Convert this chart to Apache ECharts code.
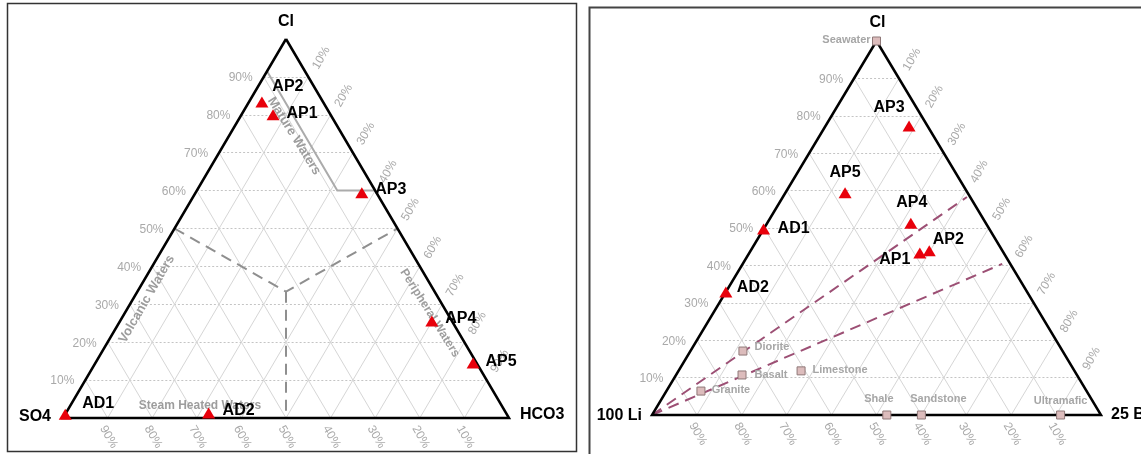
<!DOCTYPE html>
<html><head><meta charset="utf-8">
<script src="https://cdn.jsdelivr.net/npm/echarts@6/dist/echarts.min.js"></script>
<style>html,body{margin:0;padding:0;background:#fff}#c{width:1141px;height:454px}</style>
</head><body><div id="c"></div>
<script>
// ---------- DATA ----------
// Left diagram: Cl - SO4 - HCO3 (fractions)
const leftNames = ['AP1','AP2','AP3','AP4','AP5','AD1','AD2'];
const leftCl    = [0.800,0.834,0.594,0.256,0.145,0.010,0.013];
const leftSO4   = [0.129,0.137,0.033,0.045,0.008,0.990,0.667];
const leftHCO3  = [0.071,0.029,0.373,0.699,0.847,0.000,0.320];

// Right diagram: Cl - 100 Li - 25 B (fractions)
const rightNames = ['AP1','AP2','AP3','AP4','AP5','AD1','AD2'];
const rightCl    = [0.433,0.439,0.773,0.513,0.594,0.497,0.329];
const rightLi    = [0.187,0.163,0.041,0.167,0.273,0.503,0.671];
const rightB     = [0.380,0.398,0.186,0.320,0.133,0.000,0.000];

// Reference rock / water compositions (right diagram)
const refNames = ['Seawater','Diorite','Basalt','Granite','Limestone','Shale','Sandstone','Ultramafic'];
const refCl    = [1.000,0.171,0.107,0.064,0.118,0.000,0.000,0.000];
const refLi    = [0.000,0.712,0.746,0.859,0.609,0.477,0.400,0.090];
const refB     = [0.000,0.117,0.147,0.077,0.273,0.523,0.600,0.910];

// Dashed trend lines from the Li apex (right diagram), end points
const trendEndCl = [0.583,0.404];
const trendEndB  = [0.410,0.578];

// Field boundaries (left diagram)
const matureCl   = [0.915,0.600,0.600];
const matureHCO3 = [0.000,0.315,0.400];
const dividerCl   = [0.5,1/3,0.5];      // left edge -> centre -> right edge
const dividerHCO3 = [0.0,1/3,0.5];
const dividerBottomCl   = [1/3,0.0];    // centre -> base
const dividerBottomHCO3 = [1/3,0.5];

// Field names (left diagram), anchor in Cl / HCO3 fractions
const fieldNames = ['Mature Waters','Volcanic Waters','Peripheral Waters','Steam Heated Waters'];
const fieldCl    = [0.744,0.314,0.277,0.032];
const fieldHCO3  = [0.146,0.031,0.684,0.291];

// Ticks
const gridSteps  = [0.1,0.2,0.3,0.4,0.5,0.6,0.7,0.8,0.9];
const tickLabels = ['10%','20%','30%','40%','50%','60%','70%','80%','90%'];

// ---------- HELPERS ----------
const FONT = '"Liberation Sans", Arial, Helvetica, sans-serif';
const T = (top, right) => [right + top / 2, top];   // ternary -> cartesian
const rad = d => d * Math.PI / 180;

function gridSeries(gi) {
  const h = [], d = [];
  gridSteps.forEach(t => {
    h.push({coords: [T(t, 0), T(t, 1 - t)]});
    d.push({coords: [T(0, t), T(1 - t, t)]});
    d.push({coords: [T(0, 1 - t), T(1 - t, 0)]});
  });
  return [
    {type:'lines', coordinateSystem:'cartesian2d', xAxisIndex:gi, yAxisIndex:gi, silent:true, clip:false, z:1,
     lineStyle:{color:'#c4c4c4', width:1, type:[2,2], opacity:1}, data:h},
    {type:'lines', coordinateSystem:'cartesian2d', xAxisIndex:gi, yAxisIndex:gi, silent:true, clip:false, z:1,
     lineStyle:{color:'#d6d6d6', width:1, opacity:1}, data:d},
    {type:'lines', coordinateSystem:'cartesian2d', xAxisIndex:gi, yAxisIndex:gi, silent:true, clip:false, z:5, polyline:true,
     lineStyle:{color:'#000', width:2.5, opacity:1, join:'miter'}, data:[{coords:[T(1,0),T(0,1),T(0,0),T(1,0)]}]}
  ];
}

function textSeries(gi, items, z) {
  return {
    type:'custom', coordinateSystem:'cartesian2d', xAxisIndex:gi, yAxisIndex:gi, silent:true, z: z || 6,
    data: items.map(it => it.p),
    renderItem: function (params, api) {
      const it = items[params.dataIndex];
      const c = api.coord([api.value(0), api.value(1)]);
      return {
        type:'text', x: c[0] + (it.dx || 0), y: c[1] + (it.dy || 0), rotation: rad(it.rot || 0),
        style: Object.assign({text: it.text, align: it.align || 'center', verticalAlign:'middle',
                              fontFamily: FONT}, it.style)
      };
    }
  };
}

const tickStyle = {fill:'#a9a9a9', fontSize:12};
function tickSeries(gi) {
  const items = [];
  gridSteps.forEach((t, i) => {
    items.push({p:T(t, 0), text:tickLabels[i], dx:-11, dy:1, align:'right', style:tickStyle});
    items.push({p:T(1 - t, t), text:tickLabels[i], dx:13, dy:-19, rot:60, style:tickStyle});
    items.push({p:T(0, 1 - t), text:tickLabels[i], dx:1, dy:19, rot:-60, style:tickStyle});
  });
  return textSeries(gi, items, 6);
}

const vStyle = {fill:'#000', fontSize:16, fontWeight:'bold'};

// label centre offsets (pixels) for point labels
const leftLabelOff = {AP1:[29,-1], AP2:[26,-15], AP3:[29,-3], AP4:[29,-2], AP5:[28,-1], AD1:[33,-11], AD2:[30,-2]};
const rightLabelOff = {AP1:[-25,7], AP2:[19,-11], AP3:[-20,-18], AP4:[1,-21], AP5:[0,-20], AD1:[30,-1], AD2:[27,-4]};
const refLabelOff = {Seawater:[-30,-1], Diorite:[29,-4], Basalt:[29,0], Granite:[30,-1], Limestone:[39,-1],
                     Shale:[-8,-16], Sandstone:[17,-16], Ultramafic:[0,-14]};

function pointSeries(gi, names, top, right, offs) {
  return {
    type:'scatter', xAxisIndex:gi, yAxisIndex:gi, clip:false, z:10, silent:true,
    symbol:'triangle', symbolSize:[13,11],
    itemStyle:{color:'#e8000b', opacity:1},
    label:{show:true, position:'inside', formatter:'{b}', color:'#000', fontSize:16, fontWeight:'bold', fontFamily:FONT,
           textBorderWidth:0, textBorderColor:'transparent', textShadowBlur:0},
    data: names.map((n, i) => ({name:n, value:T(top[i], right[i]), label:{offset:offs[n]}}))
  };
}

// ---------- SERIES ----------
const series = [];
// Left diagram
series.push(...gridSeries(0));
series.push({type:'lines', coordinateSystem:'cartesian2d', xAxisIndex:0, yAxisIndex:0, silent:true, clip:false, polyline:true, z:3,
  lineStyle:{color:'#ababab', width:2, opacity:1},
  data:[{coords: matureCl.map((c, i) => T(c, matureHCO3[i]))}]});
series.push({type:'lines', coordinateSystem:'cartesian2d', xAxisIndex:0, yAxisIndex:0, silent:true, clip:false, polyline:true, z:3,
  lineStyle:{color:'#8f8f8f', width:2, type:[11,7], opacity:1},
  data:[{coords: dividerCl.map((c, i) => T(c, dividerHCO3[i]))},
        {coords: dividerBottomCl.map((c, i) => T(c, dividerBottomHCO3[i]))}]});
series.push(tickSeries(0));
const fieldRot = [-58, 60, -58, 0];
const fieldSize = [13, 13, 12, 12];
series.push(textSeries(0, fieldNames.map((n, i) => ({p:T(fieldCl[i], fieldHCO3[i]), text:n, rot:fieldRot[i],
  style:{fill:'#9d9d9d', fontSize:fieldSize[i], fontWeight:'bold'}})), 7));
series.push(textSeries(0, [
  {p:T(1,0), text:'Cl', dx:0, dy:-17, style:vStyle},
  {p:T(0,0), text:'SO4', dx:-12, dy:-1, align:'right', style:vStyle},
  {p:T(0,1), text:'HCO3', dx:11, dy:-3, align:'left', style:vStyle}
], 8));
series.push(pointSeries(0, leftNames, leftCl, leftHCO3, leftLabelOff));

// Right diagram
series.push(...gridSeries(1));
series.push({type:'lines', coordinateSystem:'cartesian2d', xAxisIndex:1, yAxisIndex:1, silent:true, clip:false, z:3,
  lineStyle:{color:'#9c4f74', width:2, type:[11,7], opacity:1},
  data: trendEndCl.map((c, i) => ({coords:[T(0,0), T(c, trendEndB[i])]}))});
series.push(tickSeries(1));
series.push(textSeries(1, [
  {p:T(1,0), text:'Cl', dx:1, dy:-18, style:vStyle},
  {p:T(0,0), text:'100 Li', dx:-10, dy:1, align:'right', style:vStyle},
  {p:T(0,1), text:'25 B', dx:10, dy:0, align:'left', style:vStyle}
], 8));
series.push({
  type:'scatter', xAxisIndex:1, yAxisIndex:1, clip:false, z:9, silent:true,
  symbol:'rect', symbolSize:8,
  itemStyle:{color:'#dcbcbc', borderColor:'#8f7878', borderWidth:1, opacity:1},
  label:{show:true, position:'inside', formatter:'{b}', color:'#a6a6a6', fontSize:11, fontWeight:'bold', fontFamily:FONT,
         textBorderWidth:0, textBorderColor:'transparent'},
  data: refNames.map((n, i) => ({name:n, value:T(refCl[i], refB[i]), label:{offset:refLabelOff[n]}}))
});
series.push(pointSeries(1, rightNames, rightCl, rightB, rightLabelOff));

// ---------- CHART ----------
const chart = echarts.init(document.getElementById('c'), null, {renderer:'canvas'});
const ax = {type:'value', min:0, max:1, show:false};
chart.setOption({
  animation:false,
  backgroundColor:'#fff',
  grid:[
    {left:63, top:39, width:446, height:379, containLabel:false},
    {left:652, top:41, width:449, height:374, containLabel:false}
  ],
  xAxis:[Object.assign({gridIndex:0}, ax), Object.assign({gridIndex:1}, ax)],
  yAxis:[Object.assign({gridIndex:0}, ax), Object.assign({gridIndex:1}, ax)],
  graphic:[
    {type:'rect', silent:true, shape:{x:7.5, y:3.5, width:569, height:448}, style:{fill:'none', stroke:'#333', lineWidth:1.5}},
    {type:'polyline', silent:true, shape:{points:[[589.5,455],[589.5,7.5],[1142,7.5]]}, style:{fill:'none', stroke:'#444', lineWidth:2}}
  ],
  series: series
});
</script></body></html>
